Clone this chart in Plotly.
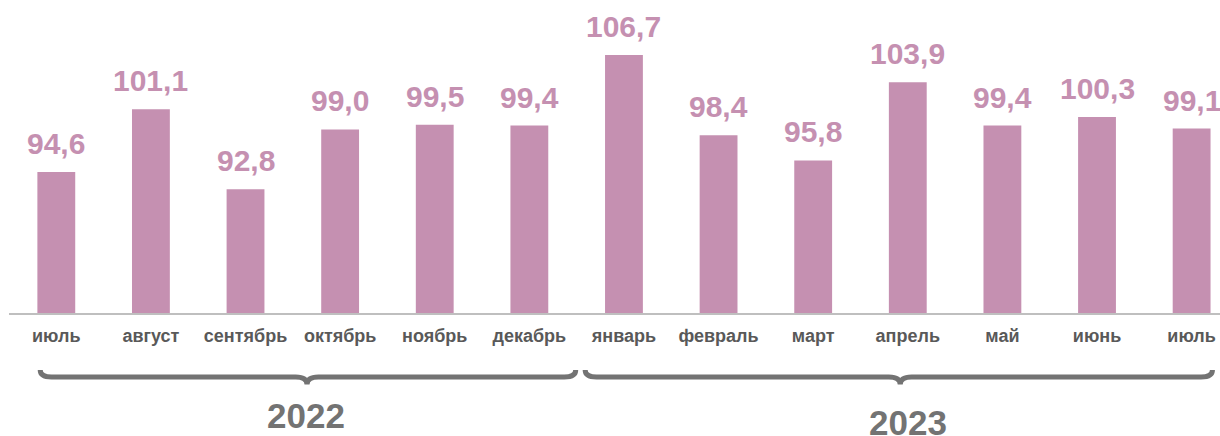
import plotly.graph_objects as go

months = ["июль", "август", "сентябрь", "октябрь", "ноябрь", "декабрь",
          "январь", "февраль", "март", "апрель", "май", "июнь", "июль"]
values = [94.6, 101.1, 92.8, 99.0, 99.5, 99.4,
          106.7, 98.4, 95.8, 103.9, 99.4, 100.3, 99.1]
years = ["2022", "2023"]

BAR = "#C590B1"
GREY = "#595959"
BRACE = "#737373"
FONT = "Arial, Liberation Sans, sans-serif"

xs = list(range(len(months)))

fig = go.Figure()
fig.add_trace(go.Bar(x=xs, y=values, marker=dict(color=BAR, line=dict(width=0)),
                     width=0.4, hoverinfo="skip"))

for x, v in zip(xs, values):
    fig.add_annotation(x=x, y=v, xref="x", yref="y", yanchor="bottom",
                       text=f"{v:.1f}".replace(".", ","), showarrow=False,
                       yshift=10, font=dict(family=FONT, size=30, color=BAR, weight="bold"))


def brace(x0, x1, xc, yt=-0.188, yl=-0.211, ytip=-0.236, r=0.12):
    return (f"M {x0},{yt} Q {x0},{yl} {x0 + r},{yl} L {xc - r},{yl} "
            f"Q {xc},{yl} {xc},{ytip} Q {xc},{yl} {xc + r},{yl} "
            f"L {x1 - r},{yl} Q {x1},{yl} {x1},{yt}")


brace_spans = [(-0.17, 5.49, 2.65), (5.59, 12.22, 8.92)]
year_pos = [(2.64, -0.337), (9.0, -0.362)]
for (x0, x1, xc), (yx, yy), yr in zip(brace_spans, year_pos, years):
    fig.add_shape(type="path", path=brace(x0, x1, xc), xref="x", yref="paper",
                  line=dict(color=BRACE, width=5))
    fig.add_annotation(x=yx, y=yy, xref="x", yref="paper", text=yr, showarrow=False,
                       yanchor="middle", font=dict(family=FONT, size=35, color=BRACE, weight="bold"))

fig.update_layout(
    width=1220, height=436,
    margin=dict(l=9, r=0, t=10, b=123, autoexpand=False),
    plot_bgcolor="white", paper_bgcolor="white",
    showlegend=False,
    xaxis=dict(range=[-0.5, 12.3], tickmode="array", tickvals=xs, ticktext=months,
               automargin=False,
               showgrid=False, zeroline=False, showline=True, linecolor="#BFBFBF", linewidth=1.5,
               ticks="outside", ticklen=6, tickcolor="rgba(0,0,0,0)",
               tickfont=dict(family=FONT, size=18, color=GREY, weight="bold")),
    yaxis=dict(range=[80, 111.37], visible=False, automargin=False),
)

fig.write_html("out.html", config={"displayModeBar": False},
               post_script="document.body.style.margin='0';document.body.style.overflow='hidden';")
